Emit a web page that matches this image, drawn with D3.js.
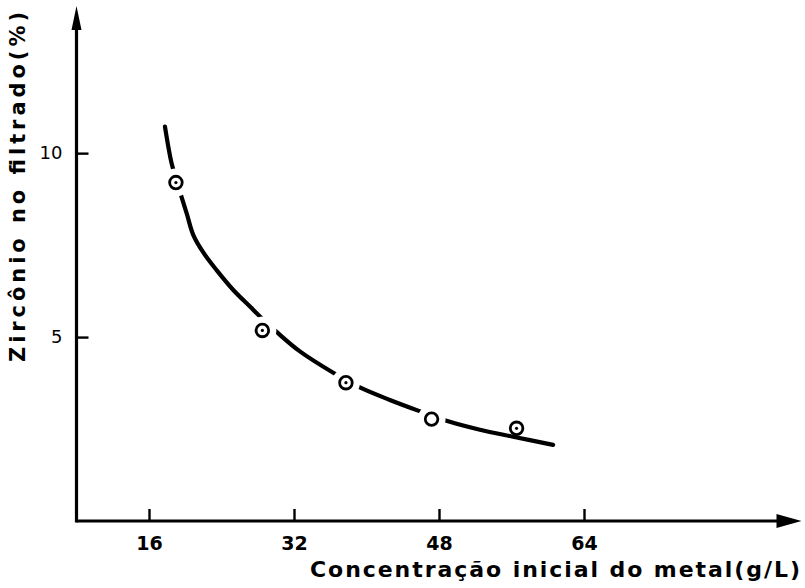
<!DOCTYPE html>
<html>
<head>
<meta charset="utf-8">
<script src="https://cdn.jsdelivr.net/npm/d3@7"></script>
<style>
  html, body { margin: 0; padding: 0; background: #fff; }
  svg { display: block; }
  text { font-family: "DejaVu Sans", sans-serif; fill: #000; }
</style>
</head>
<body>
<svg id="chart" width="805" height="588"></svg>
<script>
// ---- data ----
const pointX = [18.97, 28.51, 37.73, 47.18, 56.56];   // concentração inicial (g/L)
const pointY = [9.20, 5.18, 3.76, 2.77, 2.52];        // zircônio no filtrado (%)

const curveX = [17.76, 18.13, 18.50, 20.16, 20.88, 21.99, 23.46, 25.30, 27.14, 28.24, 30.08, 32.65, 36.33, 39.27, 42.58, 45.70, 49.01, 52.51, 56.18, 60.59];
const curveY = [10.72, 10.18, 9.72, 8.36, 7.78, 7.30, 6.82, 6.28, 5.83, 5.56, 5.14, 4.61, 4.03, 3.63, 3.29, 3.00, 2.71, 2.48, 2.29, 2.07];

const xTicks = [16, 32, 48, 64];
const yTicks = [5, 10];
const xDomain = [8, 88];
const yDomain = [0, 14];

const xTitle = "Concentração inicial do metal(g/L)";
const yTitle = "Zircônio no filtrado(%)";

// ---- drawing ----
const svg = d3.select("#chart");
const x = d3.scaleLinear().domain(xDomain).range([76.5, 801.5]);
const y = d3.scaleLinear().domain(yDomain).range([521, 6]);

// axes (ticks + labels)
const xAxis = svg.append("g")
  .attr("transform", `translate(0,${y(0)})`)
  .call(d3.axisBottom(x).tickValues(xTicks).tickSize(-12).tickPadding(16).tickFormat(d3.format("d")));
xAxis.select(".domain").remove();
xAxis.selectAll(".tick line").attr("stroke", "#000").attr("stroke-width", 2.4);
xAxis.selectAll(".tick text").attr("font-size", 19).attr("font-weight", "bold")
  .attr("font-family", "DejaVu Sans, sans-serif");

const yAxis = svg.append("g")
  .attr("transform", `translate(${x(xDomain[0])},0)`)
  .call(d3.axisLeft(y).tickValues(yTicks).tickSize(-12).tickPadding(14).tickFormat(d3.format("d")));
yAxis.select(".domain").remove();
yAxis.selectAll(".tick line").attr("stroke", "#000").attr("stroke-width", 2.4);
yAxis.selectAll(".tick text").attr("font-size", 18)
  .attr("font-family", "DejaVu Sans, sans-serif");

// axis lines with arrowheads
const x0 = x(xDomain[0]), y0 = y(0);
svg.append("path")
  .attr("d", `M${x0},${y0}H${x(xDomain[1]) - 20}`)
  .attr("stroke", "#000").attr("stroke-width", 3.2).attr("fill", "none");
svg.append("path")
  .attr("d", `M${x(xDomain[1]) - 25},${y0 - 7}L${x(xDomain[1])},${y0}L${x(xDomain[1]) - 25},${y0 + 7}Z`)
  .attr("fill", "#000");
svg.append("path")
  .attr("d", `M${x0},${y0 + 1.5}V${y(yDomain[1]) + 18}`)
  .attr("stroke", "#000").attr("stroke-width", 3.2).attr("fill", "none");
svg.append("path")
  .attr("d", `M${x0 - 5},${y(yDomain[1]) + 24}L${x0},${y(yDomain[1])}L${x0 + 5},${y(yDomain[1]) + 24}Z`)
  .attr("fill", "#000");

// fitted curve
const curveData = curveX.map((v, i) => [v, curveY[i]]);
svg.append("path")
  .datum(curveData)
  .attr("d", d3.line().x(d => x(d[0])).y(d => y(d[1])).curve(d3.curveCatmullRom.alpha(0.5)))
  .attr("fill", "none").attr("stroke", "#000").attr("stroke-width", 4.2).attr("stroke-linecap", "round");

// points
const pts = pointX.map((v, i) => ({ x: v, y: pointY[i], i }));
// white gaps in the curve around the markers that sit on it
svg.append("g").selectAll("circle.halo")
  .data(pts.filter(d => d.i < pts.length - 1))
  .join("circle")
  .attr("cx", d => x(d.x)).attr("cy", d => y(d.y))
  .attr("r", 14).attr("fill", "#fff");
svg.append("g").selectAll("circle.pt")
  .data(pts)
  .join("circle")
  .attr("cx", d => x(d.x)).attr("cy", d => y(d.y))
  .attr("r", 6.3).attr("fill", "#fff").attr("stroke", "#000").attr("stroke-width", 2.8);
svg.append("g").selectAll("circle.dot")
  .data(pts.filter(d => d.i !== 3))
  .join("circle")
  .attr("cx", d => x(d.x)).attr("cy", d => y(d.y))
  .attr("r", 1.6).attr("fill", "#000");

// titles
svg.append("text")
  .attr("x", 310).attr("y", 577)
  .attr("font-size", 22).attr("font-weight", "bold")
  .attr("textLength", 490).attr("lengthAdjust", "spacing")
  .text(xTitle);
svg.append("text")
  .attr("transform", "translate(25,362) rotate(-90)")
  .attr("font-size", 21).attr("font-weight", "bold")
  .attr("textLength", 350).attr("lengthAdjust", "spacing")
  .text(yTitle);
</script>
</body>
</html>
